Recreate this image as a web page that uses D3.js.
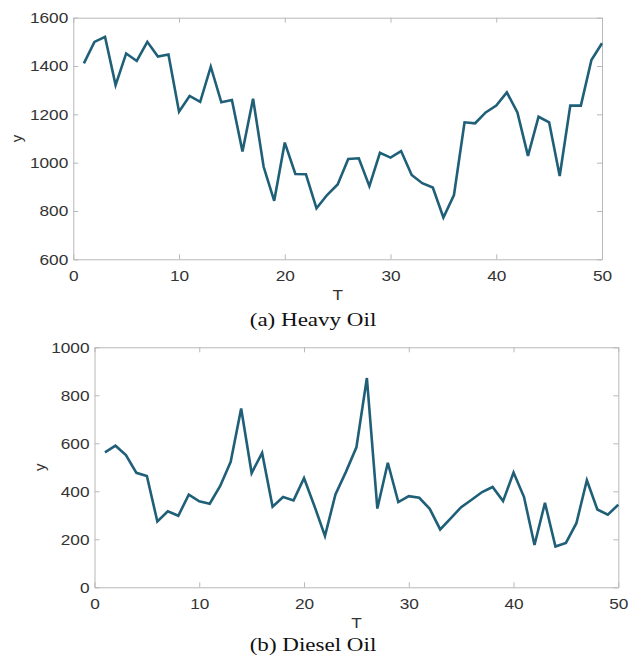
<!DOCTYPE html>
<meta charset="utf-8">
<script src="https://d3js.org/d3.v7.min.js"></script>
<style>
  body { margin: 0; background: #fff; }
</style>
<svg id="fig" width="637" height="659"></svg>
<script>

// time index 1..50
var T = d3.range(1, 51);

// (a) heavy oil series
var heavyOil = [1411,1500,1521,1321,1452,1421,1500,1439,1448,1211,
                1276,1252,1397,1250,1259,1046,1265,983,842,1083,
                953,952,811,866,910,1015,1018,903,1041,1021,
                1048,949,915,897,773,866,1167,1163,1208,1236,
                1291,1208,1028,1190,1167,945,1236,1236,1425,1494];

// (b) diesel oil series
var dieselOil = [562,590,551,477,464,274,317,298,386,358,
                 348,422,523,745,476,560,336,376,362,455,
                 338,214,387,481,583,872,328,519,355,380,
                 373,327,241,287,334,365,397,418,359,478,
                 376,176,352,170,185,267,446,324,303,344];

var xTicks = [0, 10, 20, 30, 40, 50];
var heavyTicks = [600, 800, 1000, 1200, 1400, 1600];
var dieselTicks = [0, 200, 400, 600, 800, 1000];

var svg = d3.select("#fig");
var lineColor = "#1f5f78";
var boxColor = "#b8b8b8";
var textColor = "#333";
var stretch = 1.15; // the reference text is a bit wide
var fmt = d3.format("d");

function drawPanel(opt) {
  var x = d3.scaleLinear().domain([0, 50]).range([opt.left, opt.right]);
  var y = d3.scaleLinear().domain(opt.yDomain).range([opt.bottom, opt.top]);

  var g = svg.append("g");

  // inward ticks on all four sides, like matlab's box on
  var bottomAxis = g.append("g")
    .attr("transform", "translate(0," + opt.bottom + ")")
    .call(d3.axisBottom(x).tickValues(xTicks).tickFormat(fmt).tickSizeInner(-5).tickSizeOuter(0));
  g.append("g")
    .attr("transform", "translate(0," + opt.top + ")")
    .call(d3.axisTop(x).tickValues(xTicks).tickSizeInner(-5).tickSizeOuter(0).tickFormat(""));
  var leftAxis = g.append("g")
    .attr("transform", "translate(" + opt.left + ",0)")
    .call(d3.axisLeft(y).tickValues(opt.yTicks).tickFormat(fmt).tickSizeInner(-5).tickSizeOuter(0));
  g.append("g")
    .attr("transform", "translate(" + opt.right + ",0)")
    .call(d3.axisRight(y).tickValues(opt.yTicks).tickSizeInner(-5).tickSizeOuter(0).tickFormat(""));

  g.selectAll(".domain").attr("stroke", boxColor);
  g.selectAll(".tick line").attr("stroke", boxColor);
  g.selectAll("text")
    .attr("fill", textColor)
    .style("font-family", "Liberation Sans, Arial, sans-serif")
    .style("font-size", "15px");

  bottomAxis.selectAll(".tick text")
    .attr("y", opt.xLabelGap).attr("dy", 0)
    .attr("transform", "scale(" + stretch + ",1)");
  leftAxis.selectAll(".tick text")
    .attr("x", -5 / stretch)
    .attr("transform", "scale(" + stretch + ",1)");

  // series
  var line = d3.line()
    .x(function(d, i) { return x(T[i]); })
    .y(function(d) { return y(d); });

  g.append("path")
    .datum(opt.values)
    .attr("d", line)
    .attr("fill", "none")
    .attr("stroke", lineColor)
    .attr("stroke-width", 2.6)
    .attr("stroke-linejoin", "miter");

  // axis labels
  var cx = (opt.left + opt.right) / 2;
  g.append("text")
    .attr("transform", "translate(" + cx + "," + opt.tBase + ") scale(" + stretch + ",1)")
    .attr("text-anchor", "middle")
    .attr("fill", textColor)
    .style("font-family", "Liberation Sans, Arial, sans-serif")
    .style("font-size", "15px")
    .text("T");

  g.append("text")
    .attr("transform", "translate(" + opt.yLabelX + "," + ((opt.top + opt.bottom) / 2) + ") rotate(-90)")
    .attr("text-anchor", "middle")
    .attr("fill", textColor)
    .style("font-family", "Liberation Sans, Arial, sans-serif")
    .style("font-size", "15px")
    .text("y");

  // caption
  svg.append("text")
    .attr("transform", "translate(313," + opt.capBase + ") scale(1.28,1)")
    .attr("text-anchor", "middle")
    .attr("fill", "#111")
    .style("font-family", "Liberation Serif, Times New Roman, serif")
    .style("font-size", "18px")
    .text(opt.caption);
}

drawPanel({
  left: 73.3, right: 602, top: 17.7, bottom: 259.3,
  yDomain: [600, 1600], yTicks: heavyTicks, values: heavyOil,
  xLabelGap: 22, tBase: 300, yLabelX: 22, capBase: 326,
  caption: "(a) Heavy Oil"
});

drawPanel({
  left: 94.5, right: 618.3, top: 347.3, bottom: 587.3,
  yDomain: [0, 1000], yTicks: dieselTicks, values: dieselOil,
  xLabelGap: 22, tBase: 628, yLabelX: 45, capBase: 651,
  caption: "(b) Diesel Oil"
});

</script>
